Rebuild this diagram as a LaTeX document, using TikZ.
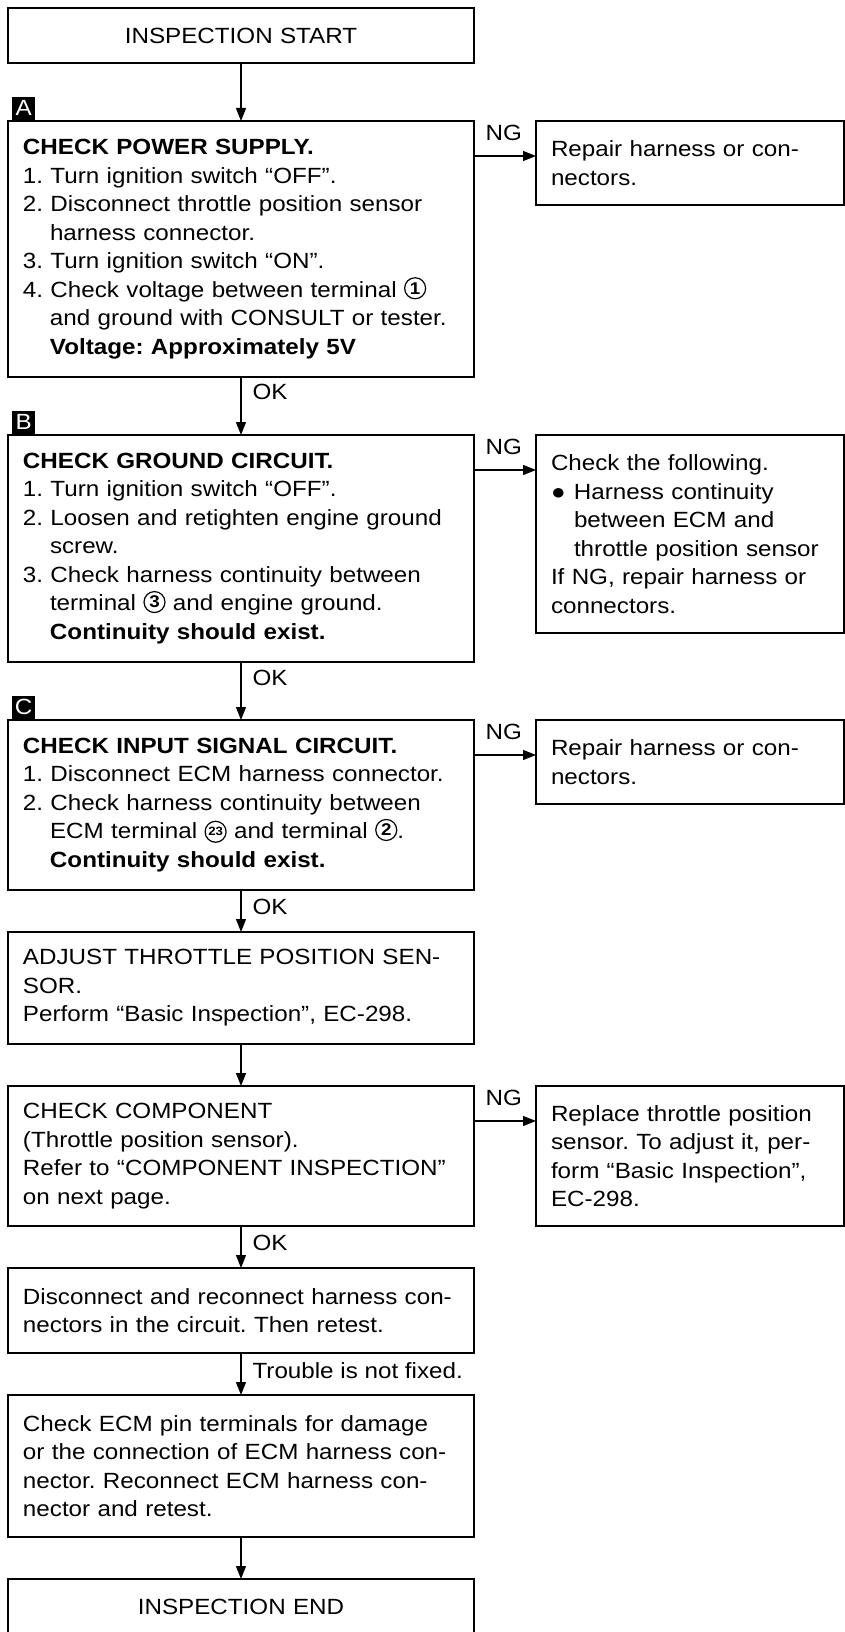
\documentclass[tikz,border=0pt]{standalone}
\usepackage{fontspec}
\setmainfont{Liberation Sans}[FakeStretch=1.1]
\usetikzlibrary{positioning, arrows.meta}
\frenchspacing
\newcommand{\boxfont}{\fontsize{22}{28.5}\selectfont}
\newcommand{\hind}{\hspace*{27pt}}
\newcommand{\term}[2][17]{\tikz[baseline={([yshift=-3pt]tm.base)}]\node[circle, draw, line width=1.2pt, inner sep=0pt, text width={}, align=center, minimum size=21pt, font=\bfseries\fontsize{#1}{#1}\selectfont] (tm) {#2};}

\begin{document}
\begin{tikzpicture}[
    mainbox/.style={draw, line width=1.6pt, outer sep=0pt, inner xsep=15pt, inner ysep=0pt, text width=436pt, align=left, font=\boxfont},
    sidebox/.style={mainbox, text width=278pt},
    tag/.style={fill=black, text=white, font=\boxfont, inner sep=0pt, minimum size=23pt, anchor=south west, xshift=4pt, yshift=1pt},
    lbl/.style={font=\boxfont, inner sep=0pt},
    arr/.style={-{Triangle[length=13pt,width=10pt]}, line width=1.1pt},
    node distance=42pt]
    \useasboundingbox (0,0) rectangle (845pt,-1632pt);

    \node[mainbox, align=center, minimum height=55pt, anchor=north west] (start) at (8pt,-8pt) {INSPECTION START};
    \node[mainbox, minimum height=256pt, below=58pt of start] (chkA) {\textbf{CHECK POWER SUPPLY.}\\
        1. Turn ignition switch “OFF”.\\
        2. Disconnect throttle position sensor\\
        \hind harness connector.\\
        3. Turn ignition switch “ON”.\\
        4. Check voltage between terminal \term{1}\\
        \hind and ground with CONSULT or tester.\\
        \hind\textbf{Voltage: Approximately 5V}};
    \node[mainbox, minimum height=227pt, below=58pt of chkA] (chkB) {\textbf{CHECK GROUND CIRCUIT.}\\
        1. Turn ignition switch “OFF”.\\
        2. Loosen and retighten engine ground\\
        \hind screw.\\
        3. Check harness continuity between\\
        \hind terminal \term{3} and engine ground.\\
        \hind\textbf{Continuity should exist.}};
    \node[mainbox, minimum height=170pt, below=58pt of chkB] (chkC) {\textbf{CHECK INPUT SIGNAL CIRCUIT.}\\
        1. Disconnect ECM harness connector.\\
        2. Check harness continuity between\\
        \hind ECM terminal \term[12]{23} and terminal \term{2}.\\
        \hind\textbf{Continuity should exist.}};
    \node[mainbox, minimum height=112pt, below=of chkC] (adj) {ADJUST THROTTLE POSITION SEN-\\
        SOR.\\
        Perform “Basic Inspection”, EC-298.};
    \node[mainbox, minimum height=140pt, below=of adj] (comp) {CHECK COMPONENT\\
        (Throttle position sensor).\\
        Refer to “COMPONENT INSPECTION”\\
        on next page.};
    \node[mainbox, minimum height=85pt, below=of comp] (recon) {Disconnect and reconnect harness con-\\
        nectors in the circuit. Then retest.};
    \node[mainbox, minimum height=142pt, below=of recon] (ecm) {Check ECM pin terminals for damage\\
        or the connection of ECM harness con-\\
        nector. Reconnect ECM harness con-\\
        nector and retest.};
    \node[mainbox, align=center, minimum height=55pt, below=of ecm] (finish) {INSPECTION END};

    \node[sidebox, minimum height=84pt, right=62pt of chkA.north east, anchor=north west] (repA) {Repair harness or con-\\
        nectors.};
    \node[sidebox, minimum height=198pt, right=62pt of chkB.north east, anchor=north west] (repB) {Check the following.\\
        \makebox[23pt][l]{●}Harness continuity\\
        \hspace*{23pt}between ECM and\\
        \hspace*{23pt}throttle position sensor\\
        If NG, repair harness or\\
        connectors.};
    \node[sidebox, minimum height=84pt, right=62pt of chkC.north east, anchor=north west] (repC) {Repair harness or con-\\
        nectors.};
    \node[sidebox, minimum height=140pt, right=62pt of comp.north east, anchor=north west] (repl) {Replace throttle position\\
        sensor. To adjust it, per-\\
        form “Basic Inspection”,\\
        EC-298.};

    \node[tag] at (chkA.north west) {A};
    \node[tag] at (chkB.north west) {B};
    \node[tag] at (chkC.north west) {C};

    \draw[arr] (start) -- (chkA);
    \draw[arr] (chkA) -- (chkB) node[lbl, pos=0.25, anchor=west, xshift=11pt] {OK};
    \draw[arr] (chkB) -- (chkC) node[lbl, pos=0.28, anchor=west, xshift=11pt] {OK};
    \draw[arr] (chkC) -- (adj) node[lbl, pos=0.4, anchor=west, xshift=11pt] {OK};
    \draw[arr] (adj) -- (comp);
    \draw[arr] (comp) -- (recon) node[lbl, pos=0.4, anchor=west, xshift=11pt] {OK};
    \draw[arr] (recon) -- (ecm) node[lbl, pos=0.42, anchor=west, xshift=11pt] {Trouble is not fixed.};
    \draw[arr] (ecm) -- (finish);

    \coordinate (ngA) at ([yshift=-35pt]chkA.north east);
    \coordinate (ngB) at ([yshift=-35pt]chkB.north east);
    \coordinate (ngC) at ([yshift=-35pt]chkC.north east);
    \coordinate (ngE) at ([yshift=-35pt]comp.north east);
    \draw[arr] (ngA) -- (ngA -| repA.west) node[lbl, pos=0, anchor=south west, xshift=11pt, yshift=15pt] {NG};
    \draw[arr] (ngB) -- (ngB -| repB.west) node[lbl, pos=0, anchor=south west, xshift=11pt, yshift=15pt] {NG};
    \draw[arr] (ngC) -- (ngC -| repC.west) node[lbl, pos=0, anchor=south west, xshift=11pt, yshift=15pt] {NG};
    \draw[arr] (ngE) -- (ngE -| repl.west) node[lbl, pos=0, anchor=south west, xshift=11pt, yshift=15pt] {NG};
\end{tikzpicture}
\end{document}
